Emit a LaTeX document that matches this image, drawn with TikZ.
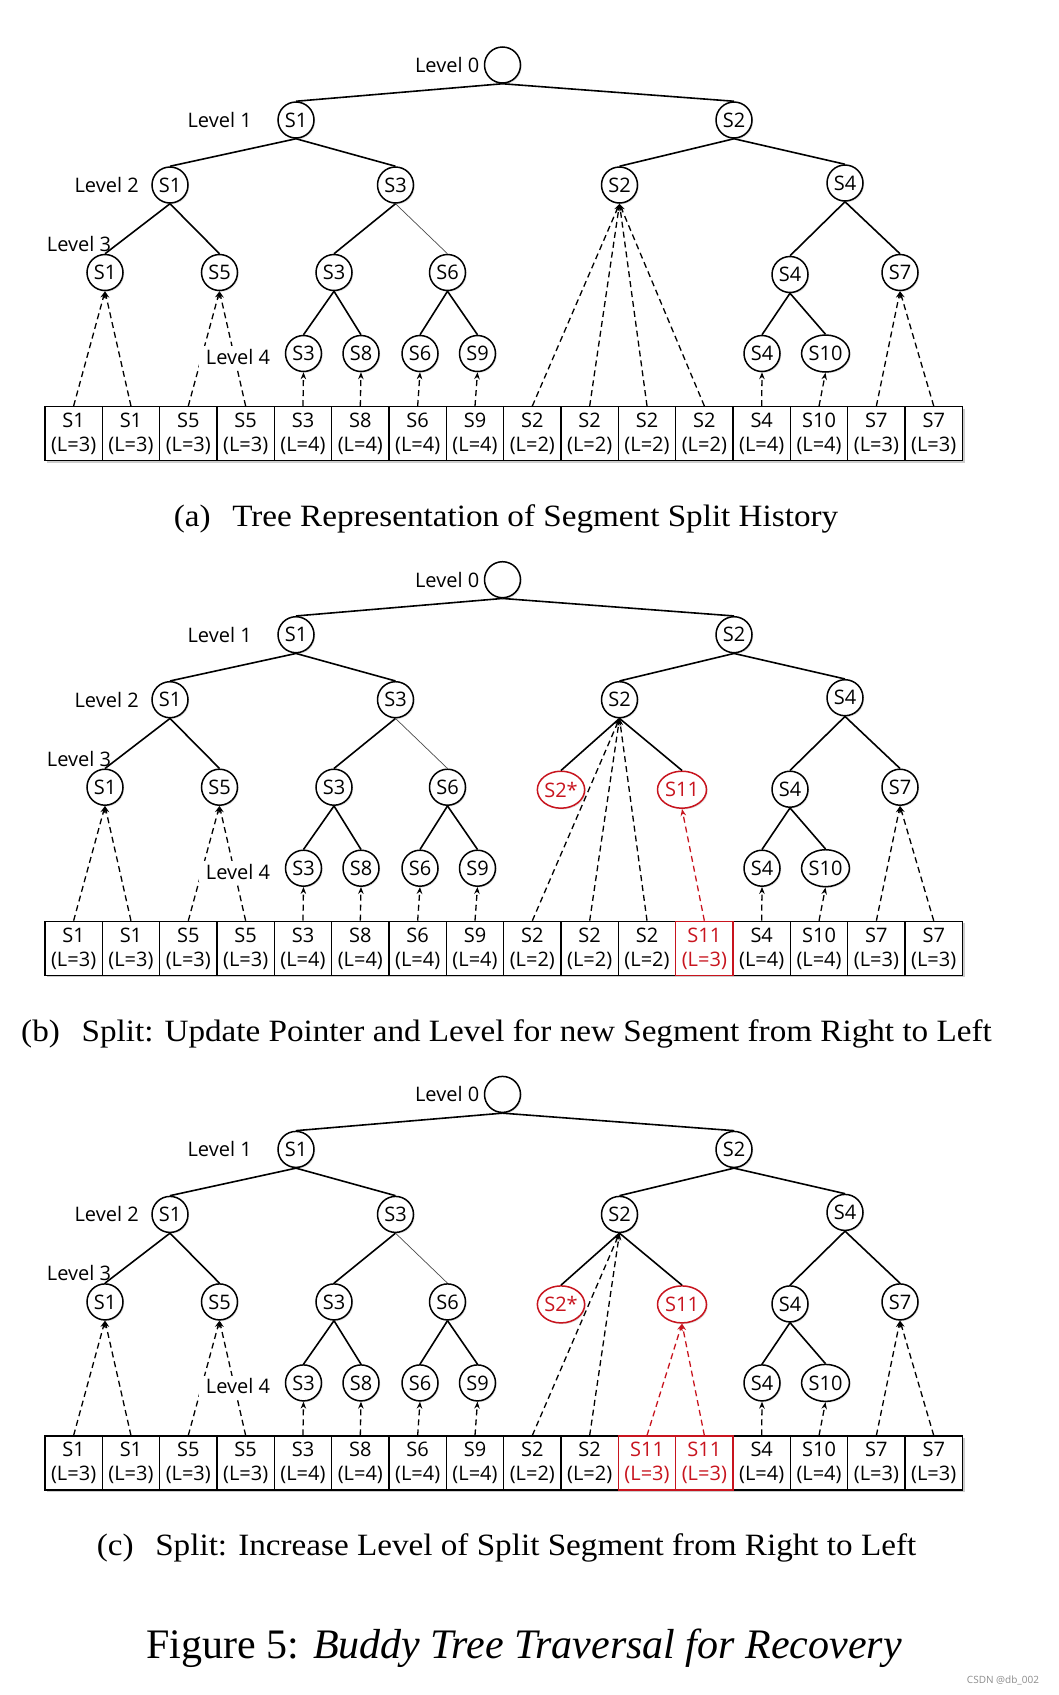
\documentclass[tikz,border=0pt]{standalone}
\usepackage{fontspec}
\setmainfont{Liberation Serif}
\newfontfamily\diagfont{Open Sans}
\newfontfamily\capfont[FakeStretch=1.07]{Liberation Serif}
\usetikzlibrary{arrows.meta,positioning,shapes.geometric,shadows}

\definecolor{splitred}{RGB}{200,20,30}

\tikzset{
  seg/.style={circle,draw,line width=1.5pt,fill=white,minimum size=36pt,inner sep=0pt,
    drop shadow={shadow xshift=1.2pt,shadow yshift=-1.2pt,opacity=0.25}},
  wideseg/.style={seg,ellipse,minimum width=45pt,minimum height=37pt},
  newseg/.style={wideseg,draw=splitred,text=splitred},
  cell/.style={draw,line width=1.3pt,fill=white,anchor=north west,inner sep=0pt,
    minimum width=57.34pt,minimum height=54pt,align=center},
  newcell/.style={cell,draw=splitred,text=splitred},
  branch/.style={line width=1.6pt},
  ptr/.style={->,line width=1.3pt,dash pattern=on 6pt off 4pt},
  subcap/.style={anchor=base,inner sep=0pt,font=\capfont\fontsize{31}{36}\selectfont}
}

\begin{document}
\begin{tikzpicture}[x=1pt,y=-1pt,>={Stealth[length=7pt,width=5.5pt]},
    font=\diagfont\fontsize{20}{24}\selectfont]
  \fill[white] (0,0) rectangle (1058,1695);
  \foreach \p/\dy in {a/0,b/514.7,c/1029.4}{
  \begin{scope}[yshift=-\dy*1pt,name prefix=\p-]
    \node[seg] (root) at (502.5,65) {};
    \node[seg] (s1-l1) at (296,120) {S1};
    \node[seg] (s2-l1) at (734,120) {S2};
    \node[seg] (s1-l2) at (170,185) {S1};
    \node[seg] (s3-l2) at (395.5,185) {S3};
    \node[seg] (s2-l2) at (619.5,185) {S2};
    \node[seg] (s4-l2) at (845,183) {S4};
    \node[seg] (s1-l3) at (105,272.5) {S1};
    \node[seg] (s5-l3) at (219.5,272.5) {S5};
    \node[seg] (s3-l3) at (334,272.5) {S3};
    \node[seg] (s6-l3) at (447.5,272.5) {S6};
    \node[seg] (s4-l3) at (790,274.5) {S4};
    \node[seg] (s7-l3) at (900,272.5) {S7};
    \node[seg] (s3-l4) at (303.5,353.5) {S3};
    \node[seg] (s8-l4) at (361,353.5) {S8};
    \node[seg] (s6-l4) at (420,353.5) {S6};
    \node[seg] (s9-l4) at (477.5,353.5) {S9};
    \node[seg] (s4-l4) at (762,353.5) {S4};
    \node[wideseg] (s10-l4) at (825.5,353.5) {S10};
    \node[left=1pt of root] (lv0) {Level 0};
    \node[left=22pt of s1-l1] (lv1) {Level 1};
    \node[left=9pt of s1-l2] (lv2) {Level 2};
    \node (lv3) at (79,244) {Level 3};
    \draw[branch] (root.south) -- (s1-l1.north);
    \draw[branch] (root.south) -- (s2-l1.north);
    \draw[branch] (s1-l1.south) -- (s1-l2.north);
    \draw[branch] (s1-l1.south) -- (s3-l2.north);
    \draw[branch] (s2-l1.south) -- (s2-l2.north);
    \draw[branch] (s2-l1.south) -- (s4-l2.north);
    \draw[branch] (s1-l2.south) -- (s1-l3.north);
    \draw[branch] (s1-l2.south) -- (s5-l3.north);
    \draw[branch] (s3-l2.south) -- (s3-l3.north);
    \draw[line width=0.7pt,black!70] (s3-l2.south) -- (s6-l3.north);
    \draw[branch] (s4-l2.south) -- (s4-l3.north);
    \draw[branch] (s4-l2.south) -- (s7-l3.north);
    \draw[branch] (s3-l3.south) -- (s3-l4.north);
    \draw[branch] (s3-l3.south) -- (s8-l4.north);
    \draw[branch] (s6-l3.south) -- (s6-l4.north);
    \draw[branch] (s6-l3.south) -- (s9-l4.north);
    \draw[branch] (s4-l3.south) -- (s4-l4.north);
    \draw[branch] (s4-l3.south) -- (s10-l4.north);
    \fill[black,opacity=0.2] (47,408.5) rectangle (964.5,462.5);
    \foreach \i/\s/\lv in {1/S1/3,2/S1/3,3/S5/3,4/S5/3,5/S3/4,6/S8/4,7/S6/4,8/S9/4,
        13/S4/4,14/S10/4,15/S7/3,16/S7/3}
      \node[cell] (c\i) at ({44.3+57.34*(\i-1)},406) {\s\\(L=\lv)};
    \foreach \i/\tgt in {1/s1-l3,2/s1-l3,3/s5-l3,4/s5-l3,5/s3-l4,6/s8-l4,7/s6-l4,8/s9-l4,
        13/s4-l4,14/s10-l4,15/s7-l3,16/s7-l3}
      \draw[ptr] (c\i.north) -- (\tgt.south);
    \node[fill=white,inner xsep=7pt,inner ysep=3pt] (lv4) at (238,357) {Level 4};
  \end{scope}}

  \begin{scope}[name prefix=a-]
    \foreach \i in {9,...,12}
      \node[cell] (c\i) at ({44.3+57.34*(\i-1)},406) {S2\\(L=2)};
    \foreach \i in {9,...,12}
      \draw[ptr] (c\i.north) -- (s2-l2.south);
  \end{scope}

  \begin{scope}[yshift=-514.7pt,name prefix=b-]
    \node[newseg,minimum width=44pt] (s2x) at (561,275) {S2*};
    \node[newseg,minimum width=49pt] (s11) at (682,275) {S11};
    \draw[branch] (s2-l2.south) -- (s2x.north);
    \draw[branch] (s2-l2.south) -- (s11.north);
    \foreach \i in {9,10,11}
      \node[cell] (c\i) at ({44.3+57.34*(\i-1)},406) {S2\\(L=2)};
    \node[newcell] (c12) at ({44.3+57.34*11},406) {S11\\(L=3)};
    \foreach \i in {9,10,11}
      \draw[ptr] (c\i.north) -- (s2-l2.south);
    \draw[ptr,splitred] (c12.north) -- (s11.south);
  \end{scope}

  \begin{scope}[yshift=-1029.4pt,name prefix=c-]
    \node[newseg,minimum width=44pt] (s2x) at (561,275) {S2*};
    \node[newseg,minimum width=49pt] (s11) at (682,275) {S11};
    \draw[branch] (s2-l2.south) -- (s2x.north);
    \draw[branch] (s2-l2.south) -- (s11.north);
    \foreach \i in {9,10}
      \node[cell] (c\i) at ({44.3+57.34*(\i-1)},406) {S2\\(L=2)};
    \foreach \i in {11,12}
      \node[newcell] (c\i) at ({44.3+57.34*(\i-1)},406) {S11\\(L=3)};
    \foreach \i in {9,10}
      \draw[ptr] (c\i.north) -- (s2-l2.south);
    \foreach \i in {11,12}
      \draw[ptr,splitred] (c\i.north) -- (s11.south);
  \end{scope}

  \node[subcap] (cap-a) at (506,526.5) {(a)\hspace{0.7em}Tree Representation of Segment Split History};
  \node[subcap] (cap-b) at (506.5,1041) {(b)\hspace{0.7em}Split: Update Pointer and Level for new Segment from Right to Left};
  \node[subcap] (cap-c) at (506.5,1555.5) {(c)\hspace{0.7em}Split: Increase Level of Split Segment from Right to Left};
  \node[subcap,font=\rmfamily\fontsize{42}{48}\selectfont] (fig) at (524,1658.3)
    {Figure 5: \textit{Buddy Tree Traversal for Recovery}};
  \node[text=black!45,font=\diagfont\fontsize{10}{12}\selectfont] (mark) at (1003,1680) {CSDN @db\_002};
\end{tikzpicture}
\end{document}
